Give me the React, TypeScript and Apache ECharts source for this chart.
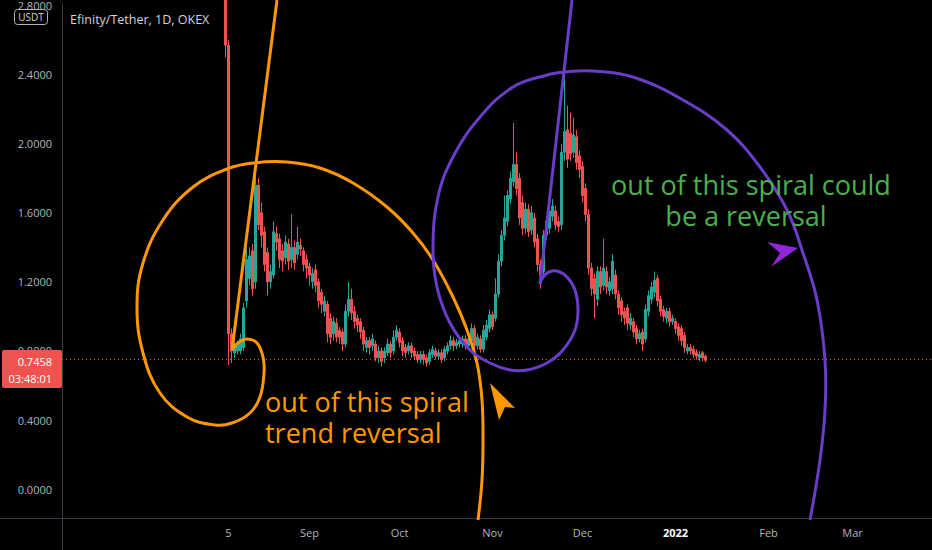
import React, { useEffect, useRef } from 'react';
import * as echarts from 'echarts';

// ---- data ----
const axisStart = [2021, 5, 11]; // Jun 11 2021 (UTC y, m0, d)
const dayCount = 290;
const firstCandle = '2021-08-04';
// [open, close, low, high]
const candles: number[][] = [
  [3.5, 2.57, 2.5, 3.9],
  [2.57, 0.9, 0.72, 2.6], [0.9, 0.8, 0.73, 0.93], [0.79, 0.83, 0.76, 0.85], [0.8, 0.84, 0.78, 0.86],
  [0.8, 0.87, 0.78, 0.9], [0.82, 1.05, 0.8, 1.08], [1.09, 1.33, 1.05, 1.4], [1.22, 1.35, 1.18, 1.4],
  [1.38, 1.16, 1.12, 1.42], [1.2, 1.76, 1.16, 1.86], [1.76, 1.53, 1.5, 1.8], [1.6, 1.47, 1.4, 1.66],
  [1.49, 1.3, 1.26, 1.52], [1.37, 1.2, 1.12, 1.4], [1.2, 1.26, 1.16, 1.3], [1.24, 1.49, 1.22, 1.55],
  [1.48, 1.43, 1.38, 1.52], [1.45, 1.33, 1.28, 1.48], [1.38, 1.32, 1.26, 1.42], [1.34, 1.43, 1.3, 1.47],
  [1.42, 1.32, 1.27, 1.45], [1.33, 1.4, 1.28, 1.59], [1.4, 1.31, 1.27, 1.44], [1.36, 1.43, 1.33, 1.52],
  [1.41, 1.39, 1.35, 1.45], [1.38, 1.3, 1.26, 1.4], [1.33, 1.28, 1.22, 1.36], [1.29, 1.24, 1.18, 1.31],
  [1.2, 1.25, 1.16, 1.28], [1.27, 1.18, 1.14, 1.3], [1.2, 1.09, 1.05, 1.22], [1.14, 1.07, 1.02, 1.16],
  [1.03, 1.09, 1.0, 1.12], [1.07, 0.9, 0.85, 1.09], [0.99, 0.88, 0.84, 1.02], [0.9, 0.97, 0.86, 1.0],
  [0.96, 0.88, 0.85, 0.99], [0.92, 0.88, 0.84, 0.94], [0.91, 0.84, 0.8, 0.93], [0.84, 1.03, 0.82, 1.07],
  [1.03, 1.1, 1.0, 1.2], [1.1, 1.02, 0.98, 1.16], [1.03, 0.97, 0.93, 1.06], [0.99, 0.95, 0.91, 1.01],
  [0.97, 0.91, 0.87, 0.99], [0.92, 0.84, 0.8, 0.94], [0.82, 0.86, 0.79, 0.88], [0.86, 0.82, 0.78, 0.88],
  [0.83, 0.87, 0.8, 0.9], [0.84, 0.76, 0.74, 0.86], [0.76, 0.8, 0.73, 0.83], [0.8, 0.74, 0.71, 0.82],
  [0.76, 0.8, 0.73, 0.82], [0.79, 0.84, 0.77, 0.87], [0.84, 0.79, 0.76, 0.86], [0.8, 0.88, 0.78, 0.92],
  [0.88, 0.92, 0.86, 0.95], [0.91, 0.85, 0.82, 0.93], [0.86, 0.8, 0.77, 0.88], [0.82, 0.79, 0.76, 0.84],
  [0.8, 0.83, 0.78, 0.85], [0.83, 0.79, 0.76, 0.85], [0.8, 0.77, 0.75, 0.82], [0.78, 0.75, 0.73, 0.8],
  [0.75, 0.78, 0.73, 0.8], [0.78, 0.75, 0.72, 0.8], [0.76, 0.73, 0.71, 0.78], [0.74, 0.79, 0.72, 0.81],
  [0.78, 0.81, 0.76, 0.83], [0.8, 0.77, 0.75, 0.82], [0.77, 0.79, 0.75, 0.81], [0.79, 0.75, 0.73, 0.81],
  [0.76, 0.81, 0.74, 0.83], [0.8, 0.83, 0.78, 0.85], [0.83, 0.86, 0.81, 0.89], [0.86, 0.83, 0.8, 0.88],
  [0.83, 0.85, 0.81, 0.87], [0.84, 0.86, 0.82, 0.88], [0.84, 0.87, 0.82, 0.89], [0.87, 0.83, 0.81, 0.89],
  [0.83, 0.87, 0.81, 0.89], [0.86, 0.93, 0.84, 0.96], [0.93, 0.83, 0.81, 0.95], [0.83, 0.88, 0.81, 0.9],
  [0.87, 0.81, 0.79, 0.89], [0.81, 0.92, 0.79, 0.95], [0.88, 0.95, 0.86, 0.98], [0.93, 1.01, 0.91, 1.04],
  [1.01, 0.94, 0.92, 1.03], [0.99, 1.13, 0.97, 1.22], [1.13, 1.32, 1.11, 1.36], [1.32, 1.47, 1.29, 1.5],
  [1.47, 1.57, 1.44, 1.7], [1.55, 1.7, 1.52, 1.73], [1.68, 1.8, 1.65, 1.84], [1.78, 1.88, 1.75, 2.12],
  [1.88, 1.74, 1.7, 1.95], [1.8, 1.57, 1.53, 1.83], [1.66, 1.51, 1.47, 1.7], [1.51, 1.62, 1.48, 1.66],
  [1.62, 1.49, 1.46, 1.65], [1.5, 1.6, 1.47, 1.64], [1.57, 1.43, 1.4, 1.6], [1.45, 1.3, 1.26, 1.48],
  [1.3, 1.24, 1.16, 1.33], [1.26, 1.47, 1.22, 1.5], [1.47, 1.55, 1.44, 1.58], [1.51, 1.61, 1.48, 1.64],
  [1.58, 1.64, 1.55, 1.68], [1.61, 1.53, 1.5, 1.64], [1.55, 1.52, 1.49, 1.58], [1.53, 1.95, 1.5, 2.0],
  [1.95, 2.07, 1.9, 2.4], [2.08, 1.91, 1.86, 2.22], [2.06, 1.94, 1.9, 2.18], [1.95, 2.05, 1.92, 2.15],
  [2.04, 1.89, 1.85, 2.08], [1.93, 1.85, 1.8, 1.96], [1.87, 1.7, 1.66, 1.9], [1.74, 1.59, 1.55, 1.77],
  [1.59, 1.28, 1.24, 1.62], [1.28, 1.16, 1.12, 1.31], [1.22, 1.13, 0.99, 1.25], [1.1, 1.26, 1.06, 1.29],
  [1.26, 1.17, 1.13, 1.29], [1.18, 1.28, 1.15, 1.45], [1.26, 1.17, 1.13, 1.29], [1.15, 1.2, 1.12, 1.23],
  [1.16, 1.32, 1.13, 1.36], [1.24, 1.13, 1.1, 1.27], [1.13, 1.05, 1.01, 1.15], [1.09, 1.01, 0.97, 1.11],
  [1.03, 0.99, 0.95, 1.05], [1.05, 0.96, 0.92, 1.07], [0.95, 0.99, 0.92, 1.02], [0.97, 0.91, 0.88, 0.99],
  [0.93, 0.87, 0.84, 0.95], [0.87, 0.9, 0.85, 0.92], [0.91, 0.84, 0.8, 0.93], [0.87, 1.04, 0.85, 1.07],
  [1.03, 1.12, 1.0, 1.15], [1.1, 1.17, 1.07, 1.2], [1.14, 1.21, 1.11, 1.26], [1.22, 1.09, 1.06, 1.24],
  [1.1, 1.03, 1.0, 1.12], [1.04, 1.0, 0.97, 1.06], [0.99, 1.03, 0.96, 1.05], [1.03, 0.97, 0.94, 1.05],
  [0.97, 0.99, 0.95, 1.01], [0.97, 0.93, 0.9, 0.99], [0.94, 0.89, 0.86, 0.96], [0.93, 0.86, 0.83, 0.95],
  [0.89, 0.82, 0.79, 0.91], [0.8, 0.82, 0.78, 0.84], [0.82, 0.8, 0.78, 0.84], [0.81, 0.78, 0.76, 0.83],
  [0.79, 0.77, 0.75, 0.81], [0.76, 0.78, 0.74, 0.8], [0.79, 0.76, 0.74, 0.8], [0.77, 0.7458, 0.735, 0.78],
];
const priceTicks = [0, 0.4, 0.8, 1.2, 1.6, 2.0, 2.4, 2.8];
const lastPrice = 0.7458;
const countdown = '03:48:01';
const title = 'Efinity/Tether, 1D, OKEX';
const currency = 'USDT';
const monthNames = ['Jan', 'Feb', 'Mar', 'Apr', 'May', 'Jun', 'Jul', 'Aug', 'Sep', 'Oct', 'Nov', 'Dec'];
const firstLabelDate = '2021-08-05';

// annotation drawings (pixel space)
const orangeRay = [[277, 0], [232, 350]];
const orangeSpiral = [
  [232, 350], [238, 343], [247, 339], [257, 343], [263, 357], [264, 373], [260, 397], [250, 413],
  [232, 423], [215, 425], [187, 417], [160, 393], [143, 353], [137, 307], [143, 263], [163, 220],
  [193, 187], [227, 169], [253, 163], [287, 162], [320, 168], [353, 183], [387, 207], [413, 233],
  [433, 260], [453, 297], [467, 330], [477, 363], [482, 400], [483, 440], [482, 480], [478, 520],
];
const purpleRay = [[572, 0], [540, 284]];
const purpleSpiral = [
  [540, 284], [543, 277], [549, 272], [557, 271], [567, 277], [575, 290], [578, 310], [575, 330],
  [563, 350], [547, 363], [527, 370], [510, 370], [490, 363], [470, 350], [450, 323], [437, 287],
  [433, 247], [438, 197], [453, 157], [480, 117], [513, 87], [547, 75], [565, 72], [593, 71],
  [633, 77], [683, 100], [727, 130], [760, 167], [787, 210], [803, 253], [817, 300], [825, 360],
  [825, 410], [820, 460], [810, 520],
];
const orangeArrow = [[490, 383], [515, 408], [505, 407], [499, 420]];
const purpleArrow = [[798, 248], [767, 242], [780, 253], [771, 267]];

function dateKey(d: Date) {
  return d.toISOString().slice(0, 10);
}

export default function App() {
  const ref = useRef<HTMLDivElement>(null);
  useEffect(() => {
    if (!ref.current) return;
    const chart = echarts.init(ref.current, null, { renderer: 'svg' });
    const cats: string[] = [];
    for (let i = 0; i < dayCount; i++) {
      cats.push(dateKey(new Date(Date.UTC(axisStart[0], axisStart[1], axisStart[2] + i))));
    }
    const startIdx = cats.indexOf(firstCandle);
    const data = cats.map((c, i) => {
      const k = i - startIdx;
      return k >= 0 && k < candles.length ? candles[k] : '-';
    });
    const showLabel = (v: string) => v === firstLabelDate || (v > firstLabelDate && v.slice(8) === '01');
    const font = '"Open Sans", sans-serif';
    const z = 100;
    const gridColor = '#363a45';
    const option: any = {
      animation: false,
      backgroundColor: '#000000',
      grid: { left: 62, right: 0, top: 0, bottom: 32 },
      xAxis: {
        type: 'category',
        data: cats,
        boundaryGap: true,
        axisLine: { onZero: false, lineStyle: { color: gridColor } },
        axisTick: { show: false },
        splitLine: { show: false },
        axisLabel: {
          interval: (_i: number, v: string) => showLabel(v),
          formatter: (v: string) => {
            if (v === firstLabelDate) return '5';
            const m = parseInt(v.slice(5, 7), 10);
            if (m === 1) return '{y|' + v.slice(0, 4) + '}';
            return monthNames[m - 1];
          },
          color: '#b2b5be',
          fontSize: 11,
          fontFamily: font,
          margin: 9,
          rich: { y: { color: '#ffffff', fontWeight: 'bold', fontSize: 11, fontFamily: font } },
        },
      },
      yAxis: {
        type: 'value',
        min: -0.1669,
        max: 2.8144,
        position: 'left',
        axisLine: { show: true, onZero: false, lineStyle: { color: gridColor } },
        axisTick: { show: false },
        splitLine: { show: false },
        axisLabel: {
          customValues: priceTicks,
          formatter: (v: number) => v.toFixed(4),
          color: '#b2b5be',
          fontSize: 11,
          fontFamily: font,
          margin: 10,
        },
      },
      series: [
        {
          type: 'candlestick',
          data,
          barWidth: 2,
          clip: true,
          itemStyle: {
            color: '#26a69a',
            color0: '#ef5350',
            borderColor: '#26a69a',
            borderColor0: '#ef5350',
            borderWidth: 1,
          },
          markLine: {
            silent: true,
            symbol: 'none',
            label: { show: false },
            lineStyle: { color: '#ef5350', type: [1, 3], width: 1 },
            data: [{ yAxis: lastPrice }],
          },
        },
      ],
      graphic: [
        { type: 'line', z, shape: { x1: 62.5, y1: 518, x2: 62.5, y2: 550 }, style: { stroke: gridColor, lineWidth: 1 } },
        { type: 'line', z, shape: { x1: 0, y1: 518.5, x2: 62, y2: 518.5 }, style: { stroke: gridColor, lineWidth: 1 } },
        { type: 'line', z, shape: { x1: orangeRay[0][0], y1: orangeRay[0][1], x2: orangeRay[1][0], y2: orangeRay[1][1] }, style: { stroke: '#ff9800', lineWidth: 3 } },
        { type: 'polyline', z, shape: { points: orangeSpiral, smooth: 0.4 }, style: { stroke: '#ff9800', lineWidth: 3, fill: null } },
        { type: 'line', z, shape: { x1: purpleRay[0][0], y1: purpleRay[0][1], x2: purpleRay[1][0], y2: purpleRay[1][1] }, style: { stroke: '#6a3dc8', lineWidth: 3 } },
        { type: 'polyline', z, shape: { points: purpleSpiral, smooth: 0.4 }, style: { stroke: '#6a3dc8', lineWidth: 3, fill: null } },
        { type: 'polygon', z, shape: { points: orangeArrow }, style: { fill: '#ff9800' } },
        { type: 'polygon', z, shape: { points: purpleArrow }, style: { fill: '#9025d9' } },
        { type: 'text', z, style: { text: 'out of this spiral', x: 265, y: 401, font: '27px ' + font, fill: '#ff9800', align: 'left', textAlign: 'left', verticalAlign: 'middle', textVerticalAlign: 'middle' } },
        { type: 'text', z, style: { text: 'trend reversal', x: 265, y: 432, font: '27px ' + font, fill: '#ff9800', align: 'left', textAlign: 'left', verticalAlign: 'middle', textVerticalAlign: 'middle' } },
        { type: 'text', z, style: { text: 'out of this spiral could', x: 751, y: 184, font: '27px ' + font, fill: '#4caf50', align: 'center', textAlign: 'center', verticalAlign: 'middle', textVerticalAlign: 'middle' } },
        { type: 'text', z, style: { text: 'be a reversal', x: 746, y: 215, font: '27px ' + font, fill: '#4caf50', align: 'center', textAlign: 'center', verticalAlign: 'middle', textVerticalAlign: 'middle' } },
        { type: 'text', z, style: { text: title, x: 70, y: 19, font: '12.5px ' + font, fill: '#d1d4dc', align: 'left', textAlign: 'left', verticalAlign: 'middle', textVerticalAlign: 'middle' } },
        { type: 'rect', z, shape: { x: 14.5, y: 9.5, width: 33, height: 15, r: 3 }, style: { stroke: '#b2b5be', lineWidth: 1, fill: '#000000' } },
        { type: 'text', z, style: { text: currency, x: 31, y: 17, font: '10px ' + font, fill: '#d1d4dc', align: 'center', textAlign: 'center', verticalAlign: 'middle', textVerticalAlign: 'middle' } },
        { type: 'rect', z, shape: { x: 2, y: 350, width: 60, height: 38, r: 2 }, style: { fill: '#ef5350' } },
        { type: 'text', z: z + 1, style: { text: lastPrice.toFixed(4), x: 52, y: 361, font: '11px ' + font, fill: '#ffffff', align: 'right', textAlign: 'right', verticalAlign: 'middle', textVerticalAlign: 'middle' } },
        { type: 'text', z: z + 1, style: { text: countdown, x: 52, y: 378, font: '11px ' + font, fill: '#ffffff', align: 'right', textAlign: 'right', verticalAlign: 'middle', textVerticalAlign: 'middle' } },
      ],
    };
    chart.setOption(option);
    return () => chart.dispose();
  }, []);
  return <div ref={ref} style={{ position: 'fixed', left: 0, top: 0, width: 932, height: 550 }} />;
}
